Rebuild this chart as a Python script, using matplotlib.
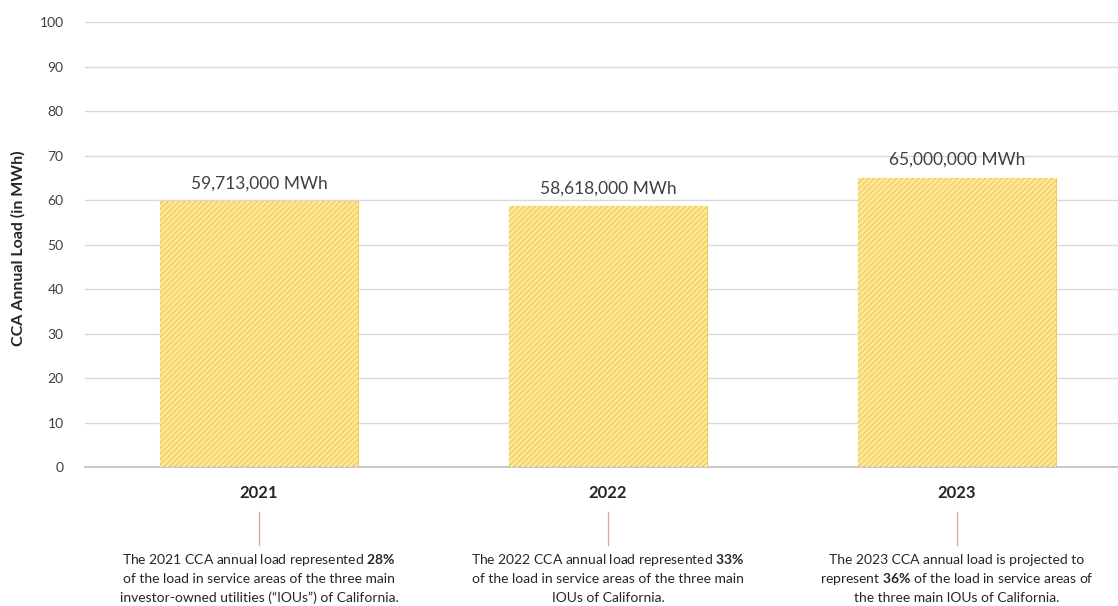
import matplotlib.pyplot as plt
from matplotlib.transforms import blended_transform_factory
from matplotlib.lines import Line2D

plt.rcParams['font.family'] = ['Lato', 'DejaVu Sans']
plt.rcParams['mathtext.fontset'] = 'custom'
plt.rcParams['mathtext.rm'] = 'Lato'
plt.rcParams['mathtext.bf'] = 'Lato:bold'
plt.rcParams['hatch.linewidth'] = 1.4

years = ['2021', '2022', '2023']
loads_mwh = [59713000, 58618000, 65000000]
shares = ['28%', '33%', '36%']
notes = [
    ['The 2021 CCA annual load represented $\\mathbf{28\\%}$',
     'of the load in service areas of the three main',
     'investor-owned utilities (\u201cIOUs\u201d) of California.'],
    ['The 2022 CCA annual load represented $\\mathbf{33\\%}$',
     'of the load in service areas of the three main',
     'IOUs of California.'],
    ['The 2023 CCA annual load is projected to',
     'represent $\\mathbf{36\\%}$ of the load in service areas of',
     'the three main IOUs of California.'],
]
yticks = list(range(0, 101, 10))

W, H = 1118, 606
fig = plt.figure(figsize=(W / 100, H / 100), dpi=100)
ax = fig.add_axes([84.5 / W, 1 - 467 / H, 1 - 84.5 / W, (467 - 22) / H])

x = list(range(len(years)))
vals = [v / 1e6 for v in loads_mwh]

# solid fill, then light diagonal stripes on top
ax.bar(x, vals, width=0.567, color='#F7D465', edgecolor='#F3CD55',
       linewidth=0.8, zorder=2)
ax.bar(x, vals, width=0.567, fill=False, hatch='//////', edgecolor='#FCEAA8',
       linewidth=0, zorder=3)

for xi, v, raw in zip(x, vals, loads_mwh):
    ax.text(xi, v + 2.2, f'{raw:,} MWh', ha='center', va='bottom',
            fontsize=12.5, color='#404040')

ax.set_xlim(-0.5, 2 + (W - 957) / 349)
ax.set_ylim(0, 100)
ax.set_yticks(yticks)
ax.set_yticklabels([str(t) for t in yticks], fontsize=10, color='#404040')
ax.set_xticks(x)
ax.set_xticklabels(years, fontsize=12, fontweight='bold', color='#262626')
ax.tick_params(axis='y', length=0, pad=15)
ax.tick_params(axis='x', length=0, pad=13)
ax.grid(axis='y', color='#D9D9D9', linewidth=1, zorder=0)
ax.set_axisbelow(True)
for s in ['top', 'right', 'left']:
    ax.spines[s].set_visible(False)
ax.spines['bottom'].set_color('#BFBFBF')
ax.spines['bottom'].set_linewidth(1.2)

fig.text(18 / W, 1 - 248 / H, 'CCA Annual Load (in MWh)', rotation=90,
         ha='center', va='center', fontsize=11.5, fontweight='bold',
         color='#262626')

tr = blended_transform_factory(ax.transData, fig.transFigure)
for xi, lines in zip(x, notes):
    ax.add_line(Line2D([xi, xi], [1 - 512 / H, 1 - 545 / H], transform=tr,
                       color='#DDA49C', linewidth=0.9, clip_on=False))
    for k, line in enumerate(lines):
        ax.text(xi, 1 - (560 + 19 * k) / H, line, transform=tr,
                ha='center', va='center', fontsize=10, color='#262626')

fig.savefig('out.png', dpi=100, facecolor='white')
